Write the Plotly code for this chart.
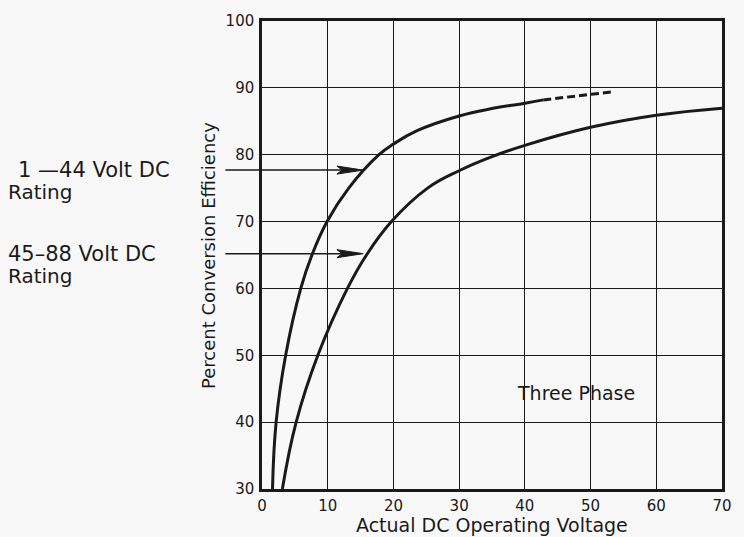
import plotly.graph_objects as go

# ---- data ----
voltage_low = [1.6, 2.15, 3.6, 5.9, 7.6, 9.9, 13.2, 17.8, 20, 23.6, 30, 35, 40, 42.8]
eff_low = [30, 40, 50, 60, 65, 70, 75, 80, 81.6, 83.6, 85.8, 86.9, 87.7, 88.2]
voltage_low_ext = [42.8, 48, 53.3]
eff_low_ext = [88.2, 88.85, 89.4]
voltage_high = [3.1, 5.2, 8.5, 13.0, 15.9, 19.7, 25.2, 30, 35, 40, 50, 60, 70]
eff_high = [30, 40, 50, 60, 65, 70, 75, 77.6, 79.7, 81.4, 84.1, 85.9, 86.95]

arrow_levels = [77.7, 65.2]
arrow_tips = [15.4, 15.4]
arrow_tail = -5.8
rating_labels = ["1 \u201444 Volt DC", "45\u201388 Volt DC"]
rating_word = "Rating"

x_ticks = [0, 10, 20, 30, 40, 50, 60, 70]
y_ticks = [30, 40, 50, 60, 70, 80, 90, 100]

FONT = "DejaVu Sans"
INK = "#1a1a1a"
BG = "#f8f8f8"
PLOT_W = 468  # px width of plotting area
label_left_px = [-250, -260]  # first-line offsets from the y axis
rating_left_px = -260

fig = go.Figure()
fig.add_trace(go.Scatter(x=voltage_low, y=eff_low, mode="lines",
                         line=dict(color=INK, width=3, shape="spline", smoothing=1.2)))
fig.add_trace(go.Scatter(x=voltage_low_ext, y=eff_low_ext, mode="lines",
                         line=dict(color=INK, width=3, dash="8px,4px")))
fig.add_trace(go.Scatter(x=voltage_high, y=eff_high, mode="lines",
                         line=dict(color=INK, width=3, shape="spline", smoothing=1.2)))

# arrows: shaft as annotation (not clipped), head as filled polygon derived from data
for lvl, tip, lab, lpx in zip(arrow_levels, arrow_tips, rating_labels, label_left_px):
    fig.add_annotation(x=tip - 3.0, y=lvl, xref="x", yref="y",
                       ax=arrow_tail, ay=lvl, axref="x", ayref="y",
                       text="", showarrow=True, arrowhead=0, arrowwidth=1.5,
                       arrowcolor=INK, standoff=0, startstandoff=0)
    hx = [tip - 4.0, tip, tip - 4.0, tip - 3.2, tip - 4.0]
    hy = [lvl + 0.6, lvl, lvl - 0.6, lvl, lvl + 0.6]
    fig.add_trace(go.Scatter(x=hx, y=hy, mode="lines", fill="toself",
                             fillcolor=INK, line=dict(color=INK, width=1)))
    fig.add_annotation(x=lpx / PLOT_W, y=lvl, xref="paper", yref="y", text=lab,
                       showarrow=False, xanchor="left", yanchor="middle",
                       font=dict(family=FONT, size=21, color=INK))
    fig.add_annotation(x=rating_left_px / PLOT_W, y=lvl - 3.3, xref="paper", yref="y",
                       text=rating_word, showarrow=False, xanchor="left", yanchor="middle",
                       font=dict(family=FONT, size=20, color=INK))

fig.add_annotation(x=47.8, y=44.4, xref="x", yref="y", text="Three Phase",
                   showarrow=False, xanchor="center",
                   font=dict(family=FONT, size=19, color=INK))
fig.add_annotation(x=-0.1175, y=0.5, xref="paper", yref="paper",
                   text="Percent Conversion Efficiency", textangle=-90,
                   showarrow=False, xanchor="center", yanchor="middle",
                   font=dict(family=FONT, size=18, color=INK))
fig.add_annotation(x=0.5, y=-0.0763, xref="paper", yref="paper",
                   text="Actual DC Operating Voltage",
                   showarrow=False, xanchor="center", yanchor="middle",
                   font=dict(family=FONT, size=19, color=INK))

axis_common = dict(showline=True, linewidth=2.5, linecolor=INK, mirror=True,
                   showgrid=True, gridcolor=INK, gridwidth=1.3, zeroline=False,
                   ticks="", tickfont=dict(family=FONT, size=15, color=INK))
fig.update_xaxes(range=[0, 70], tickvals=x_ticks, ticklabelstandoff=1, **axis_common)
fig.update_yaxes(range=[30, 100], tickvals=y_ticks, ticklabelstandoff=2, **axis_common)

fig.update_layout(width=744, height=537, showlegend=False,
                  margin=dict(l=262, r=14, t=17, b=48),
                  paper_bgcolor=BG, plot_bgcolor=BG)

fig.write_html("out.html")
